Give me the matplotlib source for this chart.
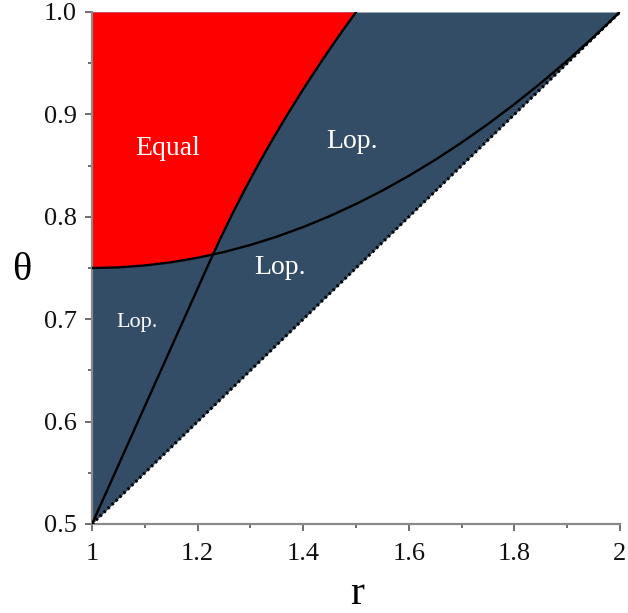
import numpy as np
import matplotlib
matplotlib.use("Agg")
import matplotlib.pyplot as plt

# Boundary curves
# curve A: from (1, 0.5) to (1.5, 1.0), read as r at given theta
curveA_theta = [0.500, 0.525, 0.550, 0.575, 0.600, 0.625, 0.650, 0.675, 0.700, 0.725,
                0.750, 0.775, 0.800, 0.825, 0.850, 0.875, 0.900, 0.925, 0.950, 0.975, 1.000]
curveA_r = [1.0000, 1.0218, 1.0435, 1.0653, 1.0870, 1.1088, 1.1305, 1.1523, 1.1740, 1.1958,
            1.2175, 1.2396, 1.2630, 1.2877, 1.3138, 1.3413, 1.3702, 1.4005, 1.4322, 1.4653, 1.5000]
# curve B: from (1, 0.75) to (2, 1.0)
curveB_r = [1.00, 1.05, 1.10, 1.15, 1.20, 1.25, 1.30, 1.35, 1.40, 1.45, 1.50,
            1.55, 1.60, 1.65, 1.70, 1.75, 1.80, 1.85, 1.90, 1.95, 2.00]
curveB_theta = [0.7500, 0.7506, 0.7525, 0.7556, 0.7600, 0.7656, 0.7725, 0.7806, 0.7900, 0.8006,
                0.8125, 0.8256, 0.8400, 0.8556, 0.8725, 0.8906, 0.9100, 0.9306, 0.9525, 0.9756, 1.0000]
# dotted diagonal lower boundary
diag_r = [1.0, 2.0]
diag_theta = [0.5, 1.0]

xticks = [1, 1.2, 1.4, 1.6, 1.8, 2]
xticklabels = ["1", "1.2", "1.4", "1.6", "1.8", "2"]
yticks = [0.5, 0.6, 0.7, 0.8, 0.9, 1.0]
yticklabels = ["0.5", "0.6", "0.7", "0.8", "0.9", "1.0"]

labels = ["Equal", "Lop.", "Lop.", "Lop."]
label_r = [1.144, 1.492, 1.356, 1.085]
label_theta = [0.867, 0.874, 0.750, 0.697]
label_size = [20, 20, 20, 16]

NAVY = "#344d66"
RED = "#ff0000"

plt.rcParams['font.family'] = ['Liberation Serif', 'DejaVu Serif']

fig = plt.figure(figsize=(6.28, 6.13), dpi=100)
ax = fig.add_axes([92/628, 1 - 524/613, (620-92)/628, (524-12)/613])

# navy region above the diagonal
ax.fill_between(diag_r, diag_theta, [1.0, 1.0], color=NAVY, lw=0, zorder=1)

# red region: above both curves
grid = np.linspace(1.0, 1.5, 600)
a = np.interp(grid, curveA_r, curveA_theta)
b = np.interp(grid, curveB_r, curveB_theta)
lower = np.maximum(a, b)
ax.fill_between(grid, lower, 1.0, color=RED, lw=0, zorder=2)

ax.plot(curveA_r, curveA_theta, color="black", lw=1.7, zorder=4)
ax.plot(curveB_r, curveB_theta, color="black", lw=1.7, zorder=4)
ax.plot(diag_r, diag_theta, color="black", lw=2.2, ls=(0, (0.8, 1.0)), zorder=3)

for t, x, y, s in zip(labels, label_r, label_theta, label_size):
    ax.text(x, y, t, color="white", fontsize=s, ha="center", va="center", zorder=5)

ax.set_xlim(1, 2)
ax.set_ylim(0.5, 1.0)
ax.set_xticks(xticks)
ax.set_xticklabels(xticklabels)
ax.set_yticks(yticks)
ax.set_yticklabels(yticklabels)
ax.set_xticks([1.1, 1.3, 1.5, 1.7, 1.9], minor=True)
ax.set_yticks([0.55, 0.65, 0.75, 0.85, 0.95], minor=True)

for s in ["top", "right"]:
    ax.spines[s].set_visible(False)
for s in ["left", "bottom"]:
    ax.spines[s].set_color("#8a8a8a")
    ax.spines[s].set_linewidth(1.6)

ax.tick_params(which="major", direction="out", length=5, width=1.2, color="#555555",
               labelsize=19, labelcolor="#111111")
ax.tick_params(axis="x", which="major", pad=9)
ax.tick_params(axis="y", which="major", pad=6)
ax.tick_params(which="minor", direction="out", length=3, width=1.2, color="#555555")

fig.text(22/628, 1 - 271/613, "θ", fontsize=29, ha="center", va="center")
fig.text(357/628, 1 - 594/613, "r", fontsize=30, ha="center", va="center")

fig.savefig("out.png", dpi=100)
